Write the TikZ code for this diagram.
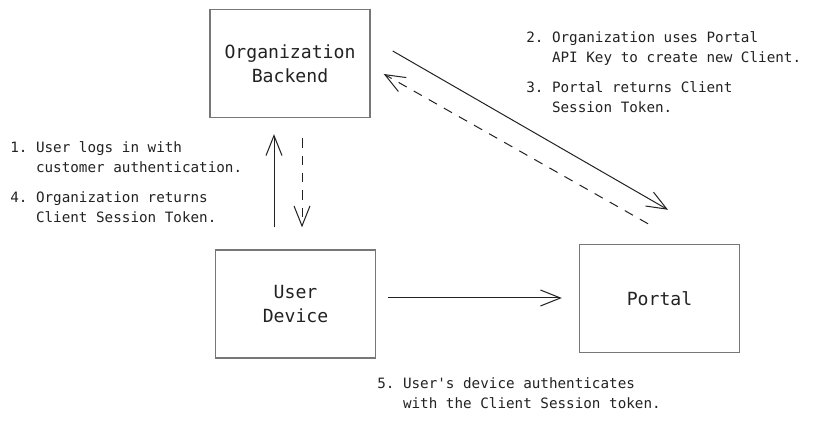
\documentclass[tikz,border=0pt]{standalone}
\usepackage{fontspec}
\setmonofont{DejaVu Sans Mono}
\usetikzlibrary{arrows.meta,calc}
\definecolor{boxgray}{HTML}{777777}
\definecolor{inkc}{HTML}{222222}
\begin{document}
\begin{tikzpicture}[x=0.75pt,y=-0.75pt,
  boxnode/.style={draw=boxgray,line width=1.1pt,minimum width=120pt,minimum height=81pt,
    inner sep=0pt,align=center,font=\ttfamily\fontsize{13.6pt}{18pt}\selectfont,text=inkc},
  lbl/.style={anchor=north west,inner sep=0pt,align=left,
    font=\ttfamily\fontsize{10.7pt}{15pt}\selectfont,text=inkc},
  flow/.style={draw=inkc,line width=0.75pt,-{Straight Barb[length=15pt,width=12pt]}},
  back/.style={flow,dash pattern=on 7pt off 6pt}]
\useasboundingbox (0,0) rectangle (834,423);
\node[boxnode] (org) at (290,63.5) {Organization\\Backend};
\node[boxnode] (ud) at (295.5,304) {User\\Device};
\node[boxnode] (portal) at (659.5,298.5) {Portal};
% connectors
\draw[flow] ($(ud.north)+(-21.5,-22)$) -- ($(org.south)+(-16,16)$);
\draw[back] ($(org.south)+(12,20)$) -- ($(ud.north)+(6.5,-22)$);
\draw[flow] ($(org.east)+(22,-12.5)$) -- ($(portal.north)+(8.5,-34)$);
\draw[back] ($(portal.north)+(-11.5,-20)$) -- ($(org.east)+(13,10.5)$);
\draw[flow] ($(ud.east)+(12,-6)$) -- ($(portal.west)+(-17,-0.5)$);
% labels
\node[lbl] (t14) at (10,141) {1. User logs in with\\\phantom{1. }customer authentication.\\[8pt]4. Organization returns\\\phantom{4. }Client Session Token.};
\node[lbl] (t23) at (526,31) {2. Organization uses Portal\\\phantom{2. }API Key to create new Client.\\[8pt]3. Portal returns Client\\\phantom{3. }Session Token.};
\node[lbl] (t5) at (377,377) {5. User's device authenticates\\\phantom{5. }with the Client Session token.};
\end{tikzpicture}
\end{document}
